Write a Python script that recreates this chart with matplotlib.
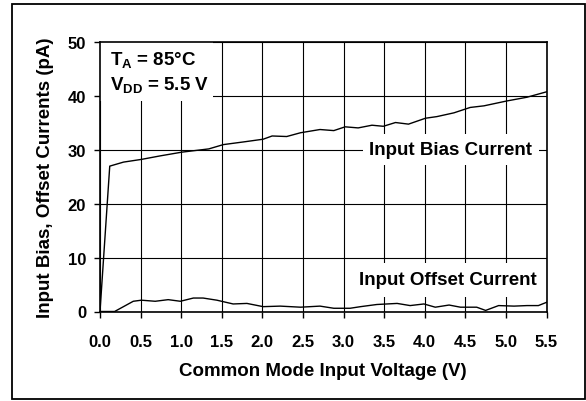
import matplotlib
matplotlib.use("Agg")
import matplotlib.pyplot as plt
from matplotlib.patches import Rectangle

# Data
bias_v = [0.0, 0.12, 0.29, 0.51, 0.74, 1.01, 1.34, 1.52, 1.77, 2.01, 2.12, 2.30, 2.47,
          2.71, 2.88, 3.02, 3.18, 3.35, 3.49, 3.64, 3.80, 4.01, 4.15, 4.36, 4.56, 4.73,
          5.01, 5.26, 5.5]
bias_i = [0.0, 27.0, 27.75, 28.25, 28.9, 29.6, 30.2, 31.0, 31.5, 32.0, 32.6, 32.5, 33.2,
          33.8, 33.6, 34.3, 34.1, 34.6, 34.4, 35.1, 34.8, 35.9, 36.2, 36.9, 37.9, 38.2,
          39.1, 39.8, 40.8]
offset_v = [0.0, 0.18, 0.41, 0.51, 0.68, 0.84, 0.99, 1.15, 1.27, 1.44, 1.64, 1.81, 2.01,
            2.22, 2.47, 2.71, 2.88, 3.08, 3.21, 3.41, 3.66, 3.82, 3.99, 4.13, 4.30, 4.44,
            4.64, 4.75, 4.91, 5.10, 5.26, 5.40, 5.5]
offset_i = [0.0, 0.0, 1.9, 2.1, 1.9, 2.2, 1.9, 2.5, 2.5, 2.1, 1.4, 1.5, 0.9,
            1.0, 0.8, 1.0, 0.6, 0.6, 0.9, 1.3, 1.5, 1.1, 1.4, 0.8, 1.2, 0.8,
            0.8, 0.2, 1.1, 1.0, 1.1, 1.1, 1.7]
x_ticks = [0.0, 0.5, 1.0, 1.5, 2.0, 2.5, 3.0, 3.5, 4.0, 4.5, 5.0, 5.5]
x_tick_labels = ["0.0", "0.5", "1.0", "1.5", "2.0", "2.5", "3.0", "3.5", "4.0", "4.5", "5.0", "5.5"]
y_ticks = [0, 10, 20, 30, 40, 50]
y_tick_labels = ["0", "10", "20", "30", "40", "50"]

FS = 13.5
TFS = 12
plt.rcParams['font.family'] = ['Liberation Sans', 'DejaVu Sans']
plt.rcParams['font.weight'] = 'bold'
plt.rcParams['mathtext.fontset'] = 'custom'
plt.rcParams['mathtext.rm'] = 'Liberation Sans:bold'
plt.rcParams['mathtext.it'] = 'Liberation Sans:bold'
plt.rcParams['mathtext.bf'] = 'Liberation Sans:bold'

fig = plt.figure(figsize=(5.86, 4.02), dpi=100)
ax = fig.add_axes([100/586, 1-312.5/402, 446.5/586, 269.2/402])

ax.plot(bias_v, bias_i, color='black', lw=1.0, zorder=3)
ax.plot(offset_v, offset_i, color='black', lw=1.0, zorder=3)

ax.set_xlim(0, 5.5)
ax.set_ylim(0, 50)
ax.set_xticks(x_ticks)
ax.set_xticklabels(x_tick_labels)
ax.set_yticks(y_ticks)
ax.set_yticklabels(y_tick_labels)
ax.set_axisbelow(True)
ax.grid(True, color='black', lw=0.8)
for s in ax.spines.values():
    s.set_linewidth(1.2)
    s.set_zorder(4)
ax.tick_params(axis='both', direction='out', length=4.5, width=1.0, labelsize=TFS)
ax.tick_params(axis='x', pad=11.5)
ax.tick_params(axis='y', pad=5.5)
for lab in ax.get_xticklabels() + ax.get_yticklabels():
    lab.set_fontweight('bold')

ax.set_xlabel("Common Mode Input Voltage (V)", fontsize=FS, fontweight='bold')
ax.set_ylabel("Input Bias, Offset Currents (pA)", fontsize=FS, fontweight='bold')
ax.xaxis.set_label_coords(0.5, -(372 - 312.5)/269.2)
ax.xaxis.label.set_verticalalignment('center')
ax.yaxis.set_label_coords(-(100 - 45)/446.5, 0.5)
ax.yaxis.label.set_verticalalignment('center')

# white box behind conditions
ax.add_patch(Rectangle((0, (312.5-102)/269.2), (213-100)/446.5, 1-(312.5-102)/269.2,
                       transform=ax.transAxes, facecolor='white', edgecolor='none', zorder=1))
ax.text(10/446.5, 1-7/269.2, r"T$_{A}$ = 85°C", transform=ax.transAxes, fontsize=FS,
        fontweight='bold', ha='left', va='top', zorder=2)
ax.text(10/446.5, 1-32/269.2, r"V$_{DD}$ = 5.5 V", transform=ax.transAxes, fontsize=FS,
        fontweight='bold', ha='left', va='top', zorder=2)

ax.text(4.32, 30.1, "Input Bias Current", fontsize=FS, fontweight='bold', ha='center', va='center',
        bbox=dict(boxstyle='square,pad=0.35', facecolor='white', edgecolor='none'), zorder=2)
ax.text(4.28, 5.9, "Input Offset Current", fontsize=FS, fontweight='bold', ha='center', va='center',
        bbox=dict(boxstyle='square,pad=0.45', facecolor='white', edgecolor='none'), zorder=2)

fig.patches.append(Rectangle((11.5/586, 2.5/402), 573/586, 395/402, transform=fig.transFigure,
                             fill=False, edgecolor='black', lw=1.3))

fig.savefig("out.png", dpi=100)
